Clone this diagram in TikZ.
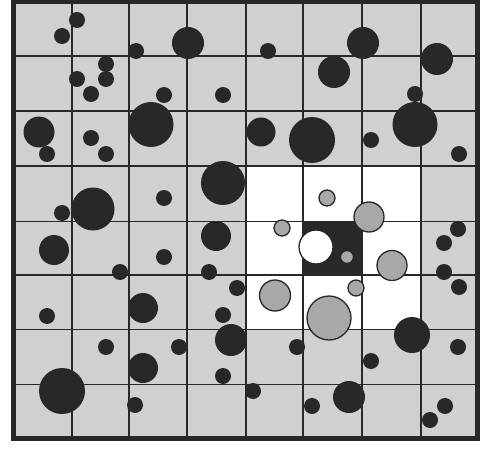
\documentclass[tikz,border=0pt]{standalone}
\definecolor{bggray}{RGB}{208,208,208}
\definecolor{midgray}{RGB}{168,168,168}
\definecolor{ink}{RGB}{40,40,40}
\begin{document}
\begin{tikzpicture}[x=1pt,y=-1pt,
  gridline/.style={draw=ink,line width=1.8pt},
  border/.style={draw=ink,line width=4.5pt},
  darkdot/.style={fill=ink},
  graydot/.style={fill=midgray,draw=ink,line width=1.3pt},
  whitedot/.style={fill=white,draw=ink,line width=1.3pt}]
\useasboundingbox (0,0) rectangle (481,449);
\fill[white] (0,0) rectangle (481,449);
% background
\fill[bggray] (13.5,2) rectangle (477.5,438.5);
% white 3x3 block and dark centre cell
\fill[white] (246,166) rectangle (421,329.5);
\fill[ink] (303,221.5) rectangle (362,275);
% grid
\foreach \x in {72,129,187,246,303,362,421}
  \draw[gridline] (\x,2) -- (\x,438.5);
\foreach \y in {56,111,166,221.5,275,329.5,384.5}
  \draw[gridline] (13.5,\y) -- (477.5,\y);
\draw[border] (13.5,2) rectangle (477.5,438.5);
% dark particles
\foreach \cx/\cy/\r in {77/20/8,62/36/8,188/43/16,136/51/8,268/51/8,363/43/16,437/59/16,
  106/64/8,77/79/8,106/79/8,334/72/16,91/94/8,164/95/8,223/95/8,415/94/8,
  39/132/15.5,151/124.5/22.5,261/132/14.5,312/140/23,415/124.5/22.5,
  47/154/8,91/138/8,106/154/8,371/140/8,459/154/8,
  223/183/22,93/209/21.5,62/213/8,164/198/8,216/236/15,54/250/15,164/257/8,
  120/272/8,209/272/8,237/288/8,143/308/15,47/316/8,223/315/8,231/340/16,
  106/347/8,179/347/8,143/368/15,223/376/8,62/391/23,135/405/8,
  297/347/8,253/391/8,349/397/16,312/406/8,371/361/8,412/335/18,458/347/8,
  445/406/8,430/420/8,458/229/8,444/243/8,444/272/8,459/287/8}
  \fill[darkdot] (\cx,\cy) circle[radius=\r];
% grey particles in the white block
\foreach \cx/\cy/\r in {327/198/8,369/217/15,282/228/8,392/265.5/15,275/295.5/15.5,
  356/288/8,329/318/22,347/257/6.5}
  \path[graydot] (\cx,\cy) circle[radius=\r];
% white particle in dark cell
\path[whitedot] (316,247) circle[radius=17];
\end{tikzpicture}
\end{document}
